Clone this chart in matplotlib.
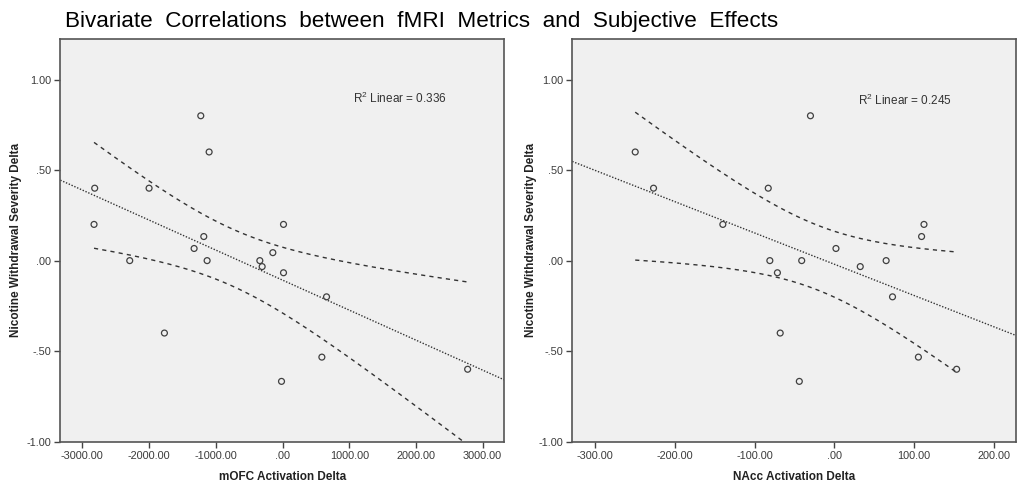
import numpy as np
import matplotlib
matplotlib.use("Agg")
import matplotlib.pyplot as plt
from matplotlib.ticker import FuncFormatter

plt.rcParams['font.family'] = ['Liberation Sans', 'DejaVu Sans']
plt.rcParams['mathtext.default'] = 'regular'

# withdrawal severity delta (y) vs mOFC activation delta (x)
mofc_x = [-2815, -2825, -2290, -2000, -1770, -1325, -1225, -1180, -1130, -1100,
          -340, -305, -145, 15, 15, -15, 590, 660, 2775]
mofc_y = [0.40, 0.20, 0.00, 0.40, -0.40, 0.067, 0.80, 0.133, 0.00, 0.60,
          0.00, -0.033, 0.044, 0.20, -0.067, -0.667, -0.533, -0.20, -0.60]

# withdrawal severity delta (y) vs NAcc activation delta (x)
nacc_x = [-250, -227, -140, -83, -81, -71.5, -68, -44, -41, -30,
          2, 32.5, 65, 73, 105.5, 109.5, 112.5, 153.5]
nacc_y = [0.60, 0.40, 0.20, 0.40, 0.00, -0.067, -0.40, -0.667, 0.00, 0.80,
          0.067, -0.033, 0.00, -0.20, -0.533, 0.133, 0.20, -0.60]

r2_labels = ["0.336", "0.245"]
x_labels = ["mOFC Activation Delta", "NAcc Activation Delta"]
y_label = "Nicotine Withdrawal Severity Delta"
title = "Bivariate  Correlations  between  fMRI  Metrics  and  Subjective  Effects"

# two-sided 95% t quantiles by degrees of freedom
T975 = {16: 2.1199, 17: 2.1098}


def fmt(v, pos):
    s = "%.2f" % v
    if s.startswith("0."):
        s = s[1:]
    elif s.startswith("-0."):
        s = "-" + s[2:]
    return s


def draw_panel(ax, xs, ys, xlim, xticks, xlabel, r2, r2pos):
    x = np.array(xs, dtype=float)
    y = np.array(ys, dtype=float)
    n = len(x)
    b, a = np.polyfit(x, y, 1)
    resid = y - (a + b * x)
    s = np.sqrt(np.sum(resid ** 2) / (n - 2))
    sxx = np.sum((x - x.mean()) ** 2)

    ax.set_facecolor('#f0f0f0')
    xl = np.linspace(xlim[0], xlim[1], 50)
    ax.plot(xl, a + b * xl, color='#333333', lw=1.0, ls=(0, (1, 1.2)))

    # 95% confidence band of the mean
    xc = np.linspace(x.min(), x.max(), 200)
    half = T975[n - 2] * s * np.sqrt(1.0 / n + (xc - x.mean()) ** 2 / sxx)
    for sign in (1, -1):
        ax.plot(xc, a + b * xc + sign * half, color='#333333', lw=1.0,
                ls=(0, (3, 3)))

    ax.scatter(x, y, s=18, facecolors='none', edgecolors='#404040',
               linewidths=0.9, zorder=3)

    ax.set_xlim(xlim)
    ax.set_ylim(-1.0, 1.224)
    ax.set_xticks(xticks)
    ax.set_yticks([-1.0, -0.5, 0.0, 0.5, 1.0])
    ax.xaxis.set_major_formatter(FuncFormatter(fmt))
    ax.yaxis.set_major_formatter(FuncFormatter(fmt))
    ax.tick_params(direction='out', length=4.5, width=1.0, color='#444444',
                   labelcolor='#3a3a3a', labelsize=7.8, pad=2)
    ax.tick_params(top=False, right=False)
    for sp in ax.spines.values():
        sp.set_color('#555555')
        sp.set_linewidth(1.2)

    ax.set_xlabel(xlabel, fontsize=8.5, fontweight='bold', color='#222222')
    ax.xaxis.label.set_va('center')
    ax.xaxis.set_label_coords(0.5, -0.088)
    ax.set_ylabel(y_label, fontsize=8.5, fontweight='bold', color='#222222')
    ax.yaxis.label.set_va('center')

    ax.text(r2pos[0], r2pos[1], "R$^{2}$ Linear = " + r2, transform=ax.transAxes,
            fontsize=8.5, color='#333333', va='baseline', ha='left')


fig = plt.figure(figsize=(10.28, 4.93), dpi=100)
ax1 = fig.add_axes([0.0587, 0.1041, 0.4319, 0.8168])
ax2 = fig.add_axes([0.5567, 0.1041, 0.4313, 0.8168])

draw_panel(ax1, mofc_x, mofc_y, (-3330, 3325),
           [-3000, -2000, -1000, 0, 1000, 2000, 3000],
           x_labels[0], r2_labels[0], (0.659, 0.842))
ax1.yaxis.set_label_coords(-0.1, 0.5)

draw_panel(ax2, nacc_x, nacc_y, (-329, 227.6),
           [-300, -200, -100, 0, 100, 200],
           x_labels[1], r2_labels[1], (0.644, 0.835))
ax2.yaxis.set_label_coords(-0.094, 0.5)

fig.text(0.0632, 0.9458, title, fontsize=16.2, va='baseline', ha='left',
         color='black')

fig.savefig("out.png", dpi=100, facecolor='white')
